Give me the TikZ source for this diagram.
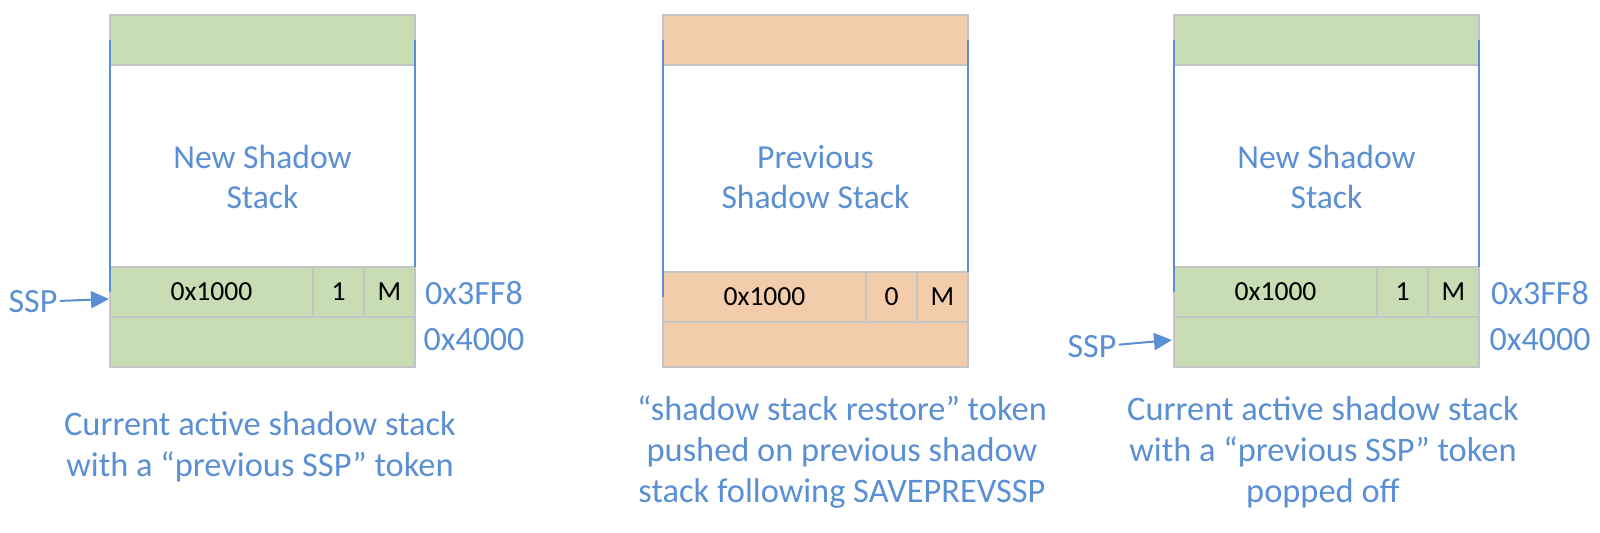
\documentclass[tikz,border=0pt]{standalone}
\usepackage{fontspec}
\setmainfont{Carlito}
\usetikzlibrary{arrows.meta}

\definecolor{ssblue}{HTML}{5B8FD3}
\definecolor{ssgreen}{HTML}{C9DDB5}
\definecolor{ssorange}{HTML}{F2CCAB}
\definecolor{ssgray}{HTML}{C4C4C4}

\tikzset{
  cell/.style={draw=ssgray, line width=0.8pt, inner sep=0pt, outer sep=0pt,
    minimum height=25pt, font=\fontsize{13.8}{15}\selectfont},
  block/.style={cell, minimum width=152.5pt},
  valcell/.style={cell, minimum width=101.5pt},
  bitcell/.style={cell, minimum width=25.5pt},
  title/.style={text=ssblue, align=center, font=\fontsize{16.8}{20}\selectfont},
  addr/.style={text=ssblue, inner sep=1pt, font=\fontsize{17}{18}\selectfont},
  caption/.style={text=ssblue, align=center, font=\fontsize{17.2}{20.5}\selectfont},
  rail/.style={draw=ssblue, line width=1pt},
  pointer/.style={draw=ssblue, fill=ssblue, line width=1pt,
    -{Triangle[length=9pt,width=8.5pt]}},
}

\begin{document}
\begin{tikzpicture}[x=0.5pt, y=-0.5pt]
  \useasboundingbox (0,0) rectangle (1600,533);

  % new shadow stack
  \node[block, fill=ssgreen] (top1) at (262.5,40) {};
  \node[valcell, fill=ssgreen] (val1) at (211.5,292) {0x1000};
  \node[bitcell, fill=ssgreen] (bit1) at (338.5,292) {1};
  \node[bitcell, fill=ssgreen] (mode1) at (389.5,292) {M};
  \node[block, fill=ssgreen] (bot1) at (262.5,342) {};
  \node[title] (name1) at (262.5,177) {New Shadow\\Stack};
  \node[addr] (hi1) at (474,293) {0x3FF8};
  \node[addr] (lo1) at (474,340) {0x4000};
  \node[addr] (ssp1) at (33,302) {SSP};
  \coordinate (tip1) at (109,299);
  \draw[rail] (top1.west) -- (val1.west);
  \draw[rail] (top1.east) -- (mode1.north east);
  \draw[pointer] (ssp1) -- (tip1);

  % previous shadow stack
  \node[block, fill=ssorange] (top2) at (815.5,40) {};
  \node[valcell, fill=ssorange] (val2) at (764.5,297) {0x1000};
  \node[bitcell, fill=ssorange] (bit2) at (891.5,297) {0};
  \node[bitcell, fill=ssorange] (mode2) at (942.5,297) {M};
  \node[block, fill=ssorange, minimum height=22.5pt] (bot2) at (815.5,344.5) {};
  \node[title] (name2) at (815.5,177) {Previous\\Shadow Stack};
  \draw[rail] (top2.west) -- (val2.west);
  \draw[rail] (top2.east) -- (mode2.north east);

  % new shadow stack, token popped
  \node[block, fill=ssgreen] (top3) at (1326.5,40) {};
  \node[valcell, fill=ssgreen] (val3) at (1275.5,292) {0x1000};
  \node[bitcell, fill=ssgreen] (bit3) at (1402.5,292) {1};
  \node[bitcell, fill=ssgreen] (mode3) at (1453.5,292) {M};
  \node[block, fill=ssgreen] (bot3) at (1326.5,342) {};
  \node[title] (name3) at (1326.5,177) {New Shadow\\Stack};
  \node[addr] (hi3) at (1540,293) {0x3FF8};
  \node[addr] (lo3) at (1540,340) {0x4000};
  \node[addr] (ssp3) at (1092,347) {SSP};
  \coordinate (tip3) at (1172,340);
  \draw[rail] (top3.west) -- (val3.west);
  \draw[rail] (top3.east) -- (mode3.north east);
  \draw[pointer] (ssp3) -- (tip3);

  % captions
  \node[caption] (cap1) at (260,447) {Current active shadow stack\\with a “previous SSP” token};
  \node[caption] (cap2) at (842,452) {“shadow stack restore” token\\pushed on previous shadow\\stack following SAVEPREVSSP};
  \node[caption] (cap3) at (1323,452) {Current active shadow stack\\with a “previous SSP” token\\popped off};
\end{tikzpicture}
\end{document}
